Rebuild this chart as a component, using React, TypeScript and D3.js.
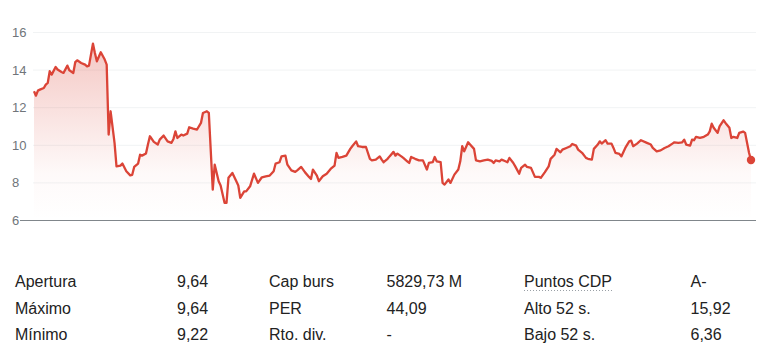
import React from "react";
import * as d3 from "d3";

// Day offsets (calendar days over the past year) and closing prices
const days: number[] = [
  0, 1, 2, 3, 5, 6, 7, 8, 9, 11, 12, 14, 15, 17, 18, 20, 21, 22, 24, 26, 27, 28, 30, 31, 32, 34, 36, 37, 38, 39, 41, 42, 44, 45, 47, 49, 50, 51, 53, 54, 55,
  57, 58, 59, 61, 63, 64, 66, 68, 70, 71, 72, 73, 75, 76, 78, 79, 81, 83, 85, 86, 88, 89, 91, 92, 94, 95, 97, 98, 99, 101, 103, 104, 105, 107, 108, 110, 112, 114, 116, 118,
  120, 122, 123, 125, 126, 128, 129, 131, 133, 134, 136, 138, 140, 141, 142, 144, 145, 147, 149, 151, 153, 154, 155, 157, 159, 161, 162, 164, 165, 167, 169, 171, 172, 174, 176, 177,
  178, 180, 181, 183, 184, 185, 187, 188, 190, 191, 192, 194, 196, 198, 200, 201, 203, 204, 205, 207, 208, 209, 211, 212, 214, 216, 217, 218, 219, 221, 222, 224, 225, 227, 229, 231, 233, 234, 235, 237,
  238, 240, 241, 242, 244, 245, 247, 248, 250, 251, 253, 255, 257, 258, 260, 262, 263, 265, 266, 268, 269, 271, 273, 274, 276, 277, 279, 281, 282, 284, 285, 287, 288, 289, 291, 292, 294, 295, 296, 298,
  299, 301, 303, 304, 305, 307, 309, 312, 314, 315, 317, 319, 321, 323, 325, 326, 328, 330, 331, 332, 334, 335, 336, 337, 339, 341, 343, 344, 345, 346, 348, 349, 351, 352, 354, 355, 356, 358, 359, 361, 362, 364, 365,
];
const prices: number[] = [
  12.87, 12.64, 12.91, 12.96, 13.05, 13.23, 13.32, 13.94, 13.76, 14.17, 14.03, 13.9, 13.85, 14.24, 13.99, 13.85, 14.42, 14.52, 14.38, 14.29, 14.2, 14.24, 15.41, 14.91, 14.47, 14.95, 14.56, 14.29, 10.57, 11.81, 10.13, 8.88, 8.92, 9.03, 8.62, 8.4, 8.43, 8.85, 9.03, 9.5, 9.45,
  9.56, 10.04, 10.48, 10.18, 10.04, 10.3, 10.52, 10.21, 10.13, 10.34, 10.74, 10.39, 10.57, 10.52, 10.62, 10.96, 10.89, 10.84, 11.19, 11.72, 11.81, 11.72, 7.64, 8.97, 8.09, 7.86, 6.94, 6.94, 8.27, 8.53, 8.09, 7.86, 7.2, 7.55, 7.55, 7.82, 8.49, 8.0, 8.3, 8.35,
  8.39, 8.62, 9.03, 9.1, 9.41, 9.45, 8.97, 8.67, 8.59, 8.67, 8.85, 8.56, 8.32, 8.21, 8.71, 8.39, 8.09, 8.35, 8.49, 8.74, 8.92, 9.6, 9.33, 9.38, 9.45, 9.81, 9.95, 10.21, 9.95, 9.91, 9.91, 9.28, 9.2, 9.24, 9.41, 9.24,
  9.1, 9.28, 9.41, 9.65, 9.45, 9.56, 9.41, 9.33, 9.15, 9.06, 9.38, 9.28, 9.2, 9.2, 8.71, 9.06, 9.1, 9.38, 9.15, 9.1, 8.0, 7.91, 8.18, 8.0, 8.44, 8.71, 9.15, 9.95, 9.68, 10.16, 10.04, 9.81, 9.2, 9.15, 9.2, 9.24, 9.17, 9.06, 9.2, 9.15,
  9.24, 9.15, 9.1, 9.33, 9.06, 8.88, 8.49, 8.8, 8.97, 8.85, 8.8, 8.32, 8.32, 8.27, 8.56, 8.88, 9.28, 9.5, 9.81, 9.63, 9.77, 9.86, 9.95, 10.07, 9.98, 9.77, 9.6, 9.33, 9.28, 9.24, 9.81, 10.04, 10.21, 10.09, 10.27, 10.09, 10.09, 9.86, 9.6, 9.54,
  9.41, 9.86, 10.21, 10.25, 9.95, 10.09, 10.27, 10.13, 10.04, 9.86, 9.68, 9.73, 9.86, 9.95, 10.09, 10.16, 10.13, 10.16, 10.3, 10.04, 9.98, 10.3, 10.27, 10.45, 10.39, 10.45, 10.57, 10.74, 11.15, 10.93, 10.66, 11.01, 11.33, 11.19, 10.93, 10.39, 10.45, 10.39, 10.66, 10.73, 10.66, 9.6, 9.22,
];
const yTicks: number[] = [6, 8, 10, 12, 14, 16];

const statLabels1: string[] = ["Apertura", "Máximo", "Mínimo"];
const statValues1: string[] = ["9,64", "9,64", "9,22"];
const statLabels2: string[] = ["Cap burs", "PER", "Rto. div."];
const statValues2: string[] = ["5829,73 M", "44,09", "-"];
const statLabels3: string[] = ["Puntos CDP", "Alto 52 s.", "Bajo 52 s."];
const statValues3: string[] = ["A-", "15,92", "6,36"];

const RED = "#db4437";

export default function App() {
  const W = 768;
  const H = 358;
  const x = d3.scaleLinear().domain([0, 365]).range([34, 751]);
  const y = d3.scaleLinear().domain([6, 16]).range([220.5, 32.5]);
  const pts = days.map((d, i) => [d, prices[i]] as [number, number]);
  const line = d3
    .line<[number, number]>()
    .x((d) => x(d[0]))
    .y((d) => y(d[1]));
  const area = d3
    .area<[number, number]>()
    .x((d) => x(d[0]))
    .y0(y(6))
    .y1((d) => y(d[1]));
  const last = pts[pts.length - 1];

  const colX = [15, 177, 269, 386.5, 524, 690.5];
  const rowY = [281.5, 308, 334.5];
  const cols: string[][] = [statLabels1, statValues1, statLabels2, statValues2, statLabels3, statValues3];

  return (
    <div style={{ position: "absolute", left: 0, top: 0, width: W, height: H }}>
      <svg width={W} height={H} style={{ display: "block", fontFamily: "Arial, 'Liberation Sans', sans-serif" }}>
        <defs>
          <linearGradient id="fillGrad" gradientUnits="userSpaceOnUse" x1={0} y1={y(16)} x2={0} y2={y(6)}>
            <stop offset="0%" stopColor={RED} stopOpacity={0.32} />
            <stop offset="75%" stopColor={RED} stopOpacity={0.03} />
            <stop offset="100%" stopColor={RED} stopOpacity={0.0} />
          </linearGradient>
        </defs>
        {yTicks.filter((t) => t !== 6).map((t) => (
          <line key={t} x1={33} x2={756} y1={y(t)} y2={y(t)} stroke="#f1f3f4" strokeWidth={1} />
        ))}
        <path d={area(pts) || ""} fill="url(#fillGrad)" />
        <line x1={20} x2={756} y1={y(6)} y2={y(6)} stroke="#80868b" strokeWidth={1} />
        {yTicks.map((t) => (
          <text key={t} x={12} y={y(t)} dy="0.35em" fontSize={13} fill="#70757a">
            {t}
          </text>
        ))}
        <path d={line(pts) || ""} fill="none" stroke={RED} strokeWidth={2.3} strokeLinejoin="round" />
        <circle cx={x(last[0])} cy={y(last[1])} r={4.2} fill={RED} />
        {cols.map((col, ci) =>
          col.map((s, ri) => (
            <text key={`${ci}-${ri}`} x={colX[ci]} y={rowY[ri]} dy="0.35em" fontSize={16} fill="#222">
              {s}
            </text>
          ))
        )}
        <line x1={colX[4]} x2={colX[4] + 88} y1={rowY[0] + 9} y2={rowY[0] + 9} stroke="#9aa0a6" strokeWidth={1} strokeDasharray="1,2" />
      </svg>
    </div>
  );
}
